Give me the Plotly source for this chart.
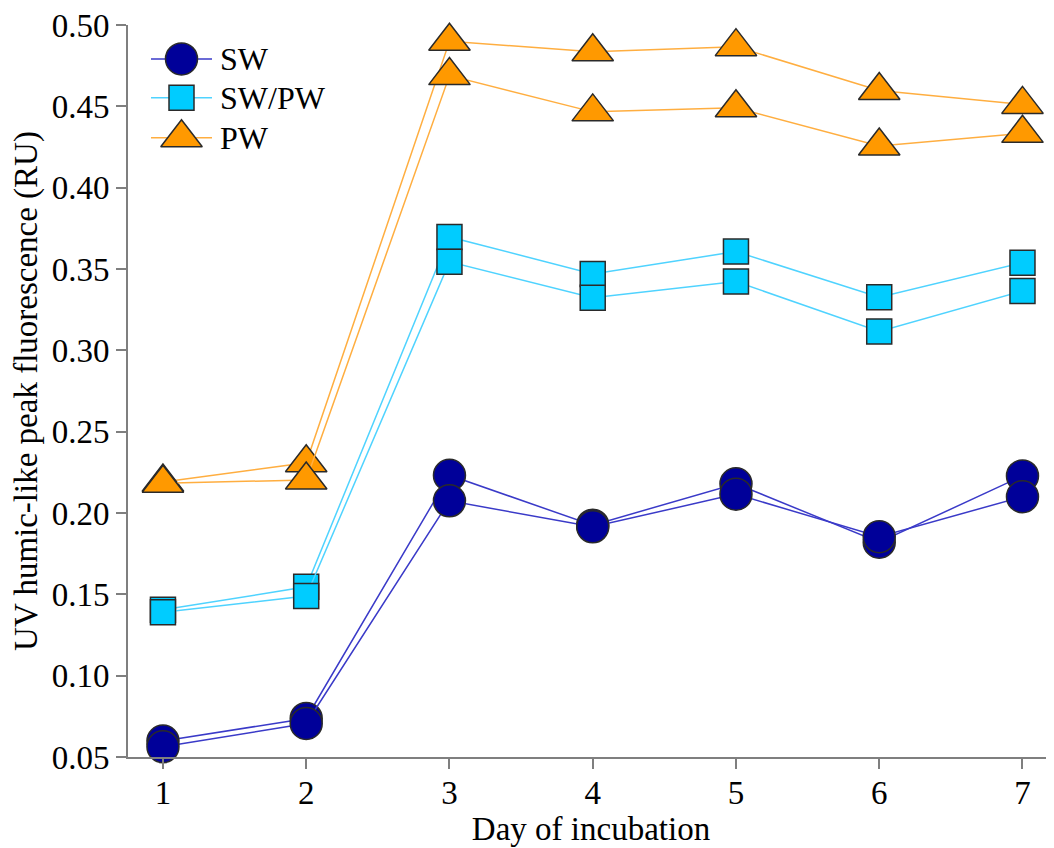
import plotly.graph_objects as go

days = [1, 2, 3, 4, 5, 6, 7]

sw_rep1 = [0.0598, 0.0737, 0.2232, 0.1925, 0.2180, 0.1820, 0.2228]
sw_rep2 = [0.0563, 0.0706, 0.2075, 0.1915, 0.2116, 0.1854, 0.2100]

swpw_rep1 = [0.1405, 0.1546, 0.3697, 0.3470, 0.3607, 0.3326, 0.3539]
swpw_rep2 = [0.1390, 0.1490, 0.3544, 0.3323, 0.3423, 0.3116, 0.3365]

pw_rep1 = [0.2190, 0.2309, 0.4900, 0.4836, 0.4867, 0.4597, 0.4512]
pw_rep2 = [0.2183, 0.2203, 0.4689, 0.4466, 0.4491, 0.4256, 0.4334]

legend_names = ["SW", "SW/PW", "PW"]
y_ticks = [0.05, 0.10, 0.15, 0.20, 0.25, 0.30, 0.35, 0.40, 0.45, 0.50]
x_title = "Day of incubation"
y_title = "UV humic-like peak fluorescence (RU)"

FONT = "Liberation Serif, Times New Roman, serif"
styles = {
    "SW": dict(mcolor="#000099", lcolor="#3a3ac8", symbol="circle", size=32),
    "SW/PW": dict(mcolor="#00ccff", lcolor="#4fd3ff", symbol="square", size=25),
    "PW": dict(mcolor="#ff9900", lcolor="#ffae40", symbol="triangle-up", size=36),
}
outline = dict(color="#2a2a2a", width=1.5)

fig = go.Figure()

series = [
    ("PW", [pw_rep1, pw_rep2]),
    ("SW/PW", [swpw_rep1, swpw_rep2]),
    ("SW", [sw_rep1, sw_rep2]),
]
for name, reps in series:
    st = styles[name]
    for rep in reps:
        fig.add_trace(go.Scatter(
            x=days, y=rep, mode="lines+markers", name=name, showlegend=False,
            line=dict(color=st["lcolor"], width=1.5),
            marker=dict(symbol=st["symbol"], size=st["size"], color=st["mcolor"], line=outline),
            cliponaxis=False,
        ))

# custom legend drawn on an overlay axis measured in page pixels
leg_rows = [57, 96, 136]
leg_x0, leg_x1, leg_xm, leg_tx = 151, 212, 181.5, 218
for name, yrow in zip(legend_names, leg_rows):
    st = styles[name]
    fig.add_trace(go.Scatter(
        x=[leg_x0, leg_x1], y=[yrow, yrow], mode="lines", xaxis="x2", yaxis="y2",
        line=dict(color=st["lcolor"], width=1.5), showlegend=False, hoverinfo="skip"))
    fig.add_trace(go.Scatter(
        x=[leg_xm], y=[yrow], mode="markers", xaxis="x2", yaxis="y2",
        marker=dict(symbol=st["symbol"], size=st["size"], color=st["mcolor"], line=outline),
        showlegend=False, hoverinfo="skip"))
    fig.add_annotation(x=leg_tx, y=yrow, xref="x2", yref="y2", text=name, showarrow=False,
                       xanchor="left", yanchor="middle", font=dict(family=FONT, size=32, color="black"))

axis_common = dict(showline=True, linecolor="#7f7f7f", linewidth=2, ticks="outside",
                   ticklen=10, tickwidth=2, tickcolor="#7f7f7f", showgrid=False, zeroline=False,
                   tickfont=dict(family=FONT, size=33, color="black"), ticklabeloverflow="allow")

# page body has an 8px margin; the figure is sized so the plot area lands at
# x 128..1054 and y 23..757 in the window
fig.update_layout(
    width=1046, height=840,
    margin=dict(l=120, r=0, t=15, b=91),
    paper_bgcolor="white", plot_bgcolor="white",
    showlegend=False,
    xaxis=dict(range=[0.756, 7.22], tickvals=days, ticklabelstandoff=-5,
               title=dict(text=x_title, standoff=0, font=dict(family=FONT, size=33, color="black")),
               **axis_common),
    yaxis=dict(range=[0.05, 0.50], tickvals=y_ticks, tickformat=".2f",
               title=dict(text=y_title, standoff=6, font=dict(family=FONT, size=33, color="black")),
               **axis_common),
    xaxis2=dict(range=[128, 1054], overlaying="x", visible=False, anchor="y2"),
    yaxis2=dict(range=[757, 23], overlaying="y", visible=False, anchor="x2"),
)

fig.write_html("out.html")
